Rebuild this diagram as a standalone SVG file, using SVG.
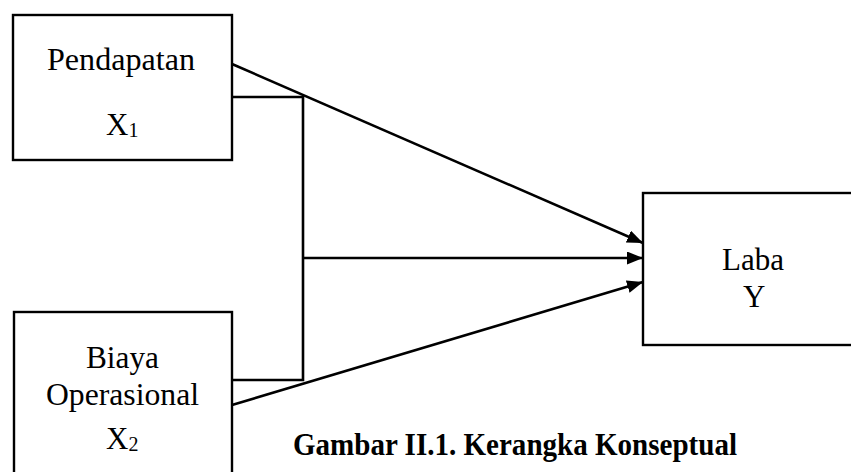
<svg xmlns="http://www.w3.org/2000/svg" width="851" height="472" viewBox="0 0 851 472">
<style>
.box{fill:#fff;stroke:#000;stroke-width:2.4}
.t{font-family:"Liberation Serif","Times New Roman",serif;font-size:31px;fill:#000}
.sub{font-size:20px}
.cap{font-family:"Liberation Serif","Times New Roman",serif;font-size:31px;font-weight:bold;fill:#000}
.ln{fill:none;stroke:#000;stroke-width:2.6}
</style>
<defs>
<marker id="ah" markerWidth="16" markerHeight="13" refX="16" refY="6.5" orient="auto" markerUnits="userSpaceOnUse">
<path d="M0,0 L16,6.5 L0,13 Z" fill="#000"/>
</marker>
</defs>
<rect width="851" height="472" fill="#fff"/>
<g id="connectors">
<polyline class="ln" points="232,97 303,97 303,380 232,380"/>
<line class="ln" x1="232" y1="64" x2="643" y2="243" marker-end="url(#ah)"/>
<line class="ln" x1="303" y1="258" x2="643" y2="258" marker-end="url(#ah)"/>
<line class="ln" x1="232" y1="405" x2="643" y2="282" marker-end="url(#ah)"/>
</g>
<g id="pendapatan">
<rect class="box" x="13" y="15" width="219" height="145"/>
<text class="t" x="47" y="70" textLength="148" lengthAdjust="spacingAndGlyphs">Pendapatan</text>
<text class="t" x="106" y="135">X<tspan class="sub" dy="2">1</tspan></text>
</g>
<g id="biaya">
<rect class="box" x="14" y="312" width="218" height="175"/>
<text class="t" x="86" y="368" textLength="73" lengthAdjust="spacingAndGlyphs">Biaya</text>
<text class="t" x="46" y="405" textLength="153" lengthAdjust="spacingAndGlyphs">Operasional</text>
<text class="t" x="106" y="449">X<tspan class="sub" dy="2">2</tspan></text>
</g>
<g id="laba">
<rect class="box" x="643" y="193" width="220" height="152"/>
<text class="t" x="722" y="270" textLength="62" lengthAdjust="spacingAndGlyphs">Laba</text>
<text class="t" x="743" y="307">Y</text>
</g>
<text class="cap" x="293" y="455" textLength="444" lengthAdjust="spacingAndGlyphs">Gambar II.1. Kerangka Konseptual</text>
</svg>
